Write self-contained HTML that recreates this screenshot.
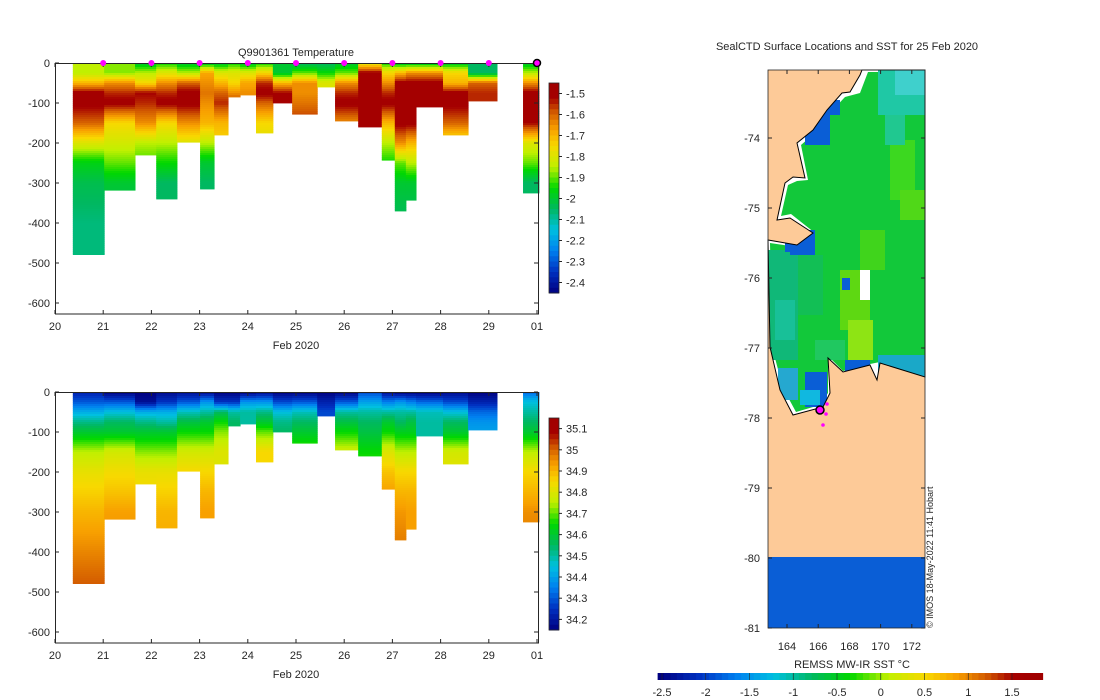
<!DOCTYPE html>
<html><head><meta charset="utf-8"><style>
body{margin:0;background:#fff}
svg{display:block;font-family:"Liberation Sans","DejaVu Sans",sans-serif}
text{font-size:11px;fill:#262626}
</style></head><body>
<svg id="s" width="1100" height="700" xmlns="http://www.w3.org/2000/svg">
<defs><clipPath id="oc"><polygon points="862,70 925,70 925,377 880,363 877,380 870,365 843,372 828,358 830,393 823,407 793,415 780,390 770,347 768,240 797,245 813,233 790,218 777,220 785,183 793,177 805,178 797,143 813,130 827,110 842,93 850,92 860,75"/></clipPath></defs>
<g id="top"></g>
<g id="bot"></g>
<g id="map"></g>
</svg>
<script>
// ---- data ----
const depthLevels=[0,25,50,75,100,150,200,250,300,400,500];
const colEdges=[20.37,21.02,21.66,22.10,22.53,23.01,23.30,23.59,23.84,24.17,24.52,24.92,25.44,25.81,26.29,26.78,27.05,27.28,27.49,28.05,28.57,29.17];
const lastCol=[29.71,30.04];
const maxDepth=[479,318,230,340,198,315,180,85,80,175,100,128,60,145,160,243,370,343,110,180,95,325];
const tempProfiles=[
[-1.85,-1.85,-1.7,-1.5,-1.5,-1.6,-1.8,-1.97,-2.03,-2.07,-2.07],
[-1.88,-1.88,-1.65,-1.55,-1.5,-1.75,-1.82,-1.9,-2.0,-2.05,-2.05],
[-2.0,-1.85,-1.75,-1.52,-1.55,-1.65,-1.85,-1.92,-1.95,-2,-2],
[-1.95,-1.8,-1.65,-1.55,-1.5,-1.75,-1.85,-1.95,-2.05,-2.05,-2.05],
[-2.0,-1.85,-1.6,-1.5,-1.5,-1.65,-1.8,-1.85,-1.9,-1.9,-1.9],
[-2.0,-1.68,-1.65,-1.62,-1.65,-1.7,-1.85,-2.0,-2.05,-2.05,-2.05],
[-2.0,-1.8,-1.7,-1.6,-1.55,-1.7,-1.75,-1.75,-1.75,-1.75,-1.75],
[-1.95,-1.8,-1.75,-1.65,-1.55,-1.55,-1.55,-1.55,-1.55,-1.55,-1.55],
[-2.0,-1.8,-1.68,-1.65,-1.65,-1.65,-1.65,-1.65,-1.65,-1.65,-1.65],
[-1.95,-1.75,-1.55,-1.5,-1.6,-1.75,-1.8,-1.8,-1.8,-1.8,-1.8],
[-2.0,-2.0,-1.7,-1.52,-1.52,-1.52,-1.52,-1.52,-1.52,-1.52,-1.52],
[-2.05,-1.9,-1.65,-1.65,-1.62,-1.55,-1.55,-1.55,-1.55,-1.55,-1.55],
[-2.05,-1.95,-1.8,-1.8,-1.8,-1.8,-1.8,-1.8,-1.8,-1.8,-1.8],
[-2.0,-1.9,-1.65,-1.55,-1.5,-1.65,-1.72,-1.72,-1.72,-1.72,-1.72],
[-1.8,-1.5,-1.5,-1.5,-1.5,-1.5,-1.5,-1.5,-1.5,-1.5,-1.5],
[-1.95,-1.75,-1.65,-1.55,-1.5,-1.7,-1.85,-1.95,-1.95,-1.95,-1.95],
[-2.0,-1.7,-1.5,-1.5,-1.5,-1.5,-1.65,-1.9,-2.0,-2.05,-2.05],
[-2.0,-1.65,-1.5,-1.5,-1.5,-1.5,-1.7,-1.85,-2.0,-2.05,-2.05],
[-2.0,-1.65,-1.5,-1.5,-1.5,-1.5,-1.5,-1.5,-1.5,-1.5,-1.5],
[-2.0,-1.75,-1.7,-1.5,-1.5,-1.6,-1.8,-1.8,-1.8,-1.8,-1.8],
[-2.05,-2.05,-1.6,-1.55,-1.55,-1.55,-1.55,-1.55,-1.55,-1.55,-1.55]];
const lastTemp=[-2.0,-1.85,-1.65,-1.5,-1.5,-1.52,-1.8,-1.9,-2.05,-2.05,-2.05];
const salProfiles=[
[34.22,34.3,34.42,34.52,34.6,34.75,34.82,34.86,34.9,34.96,35.02],
[34.15,34.3,34.45,34.55,34.6,34.78,34.84,34.88,34.93,34.95,34.95],
[34.15,34.18,34.42,34.52,34.6,34.72,34.82,34.85,34.85,34.85,34.85],
[34.17,34.25,34.42,34.5,34.6,34.72,34.82,34.86,34.9,34.92,34.92],
[34.18,34.3,34.48,34.58,34.65,34.78,34.85,34.85,34.85,34.85,34.85],
[34.17,34.38,34.5,34.6,34.65,34.78,34.85,34.9,34.93,34.93,34.93],
[34.15,34.25,34.55,34.65,34.72,34.8,34.8,34.8,34.8,34.8,34.8],
[34.15,34.25,34.5,34.55,34.55,34.55,34.55,34.55,34.55,34.55,34.55],
[34.15,34.38,34.5,34.5,34.5,34.5,34.5,34.5,34.5,34.5,34.5],
[34.17,34.38,34.52,34.6,34.7,34.85,34.85,34.85,34.85,34.85,34.85],
[34.15,34.28,34.45,34.52,34.55,34.55,34.55,34.55,34.55,34.55,34.55],
[34.15,34.3,34.48,34.55,34.6,34.7,34.7,34.7,34.7,34.7,34.7],
[34.15,34.22,34.28,34.28,34.28,34.28,34.28,34.28,34.28,34.28,34.28],
[34.15,34.3,34.5,34.58,34.65,34.78,34.8,34.8,34.8,34.8,34.8],
[34.28,34.4,34.5,34.55,34.58,34.65,34.68,34.68,34.68,34.68,34.68],
[34.18,34.35,34.5,34.6,34.65,34.8,34.88,34.93,34.93,34.93,34.93],
[34.15,34.38,34.5,34.55,34.62,34.75,34.85,34.9,34.94,34.98,34.98],
[34.15,34.35,34.5,34.58,34.62,34.75,34.85,34.9,34.93,34.93,34.93],
[34.15,34.32,34.48,34.5,34.5,34.5,34.5,34.5,34.5,34.5,34.5],
[34.17,34.28,34.45,34.55,34.6,34.78,34.82,34.82,34.82,34.82,34.82],
[34.15,34.22,34.32,34.38,34.4,34.4,34.4,34.4,34.4,34.4,34.4]];
const lastSal=[34.32,34.45,34.5,34.55,34.6,34.75,34.85,34.9,34.95,34.98,34.98];
const stationDays=[21,22,23,24,25,26,27,28,29];
const xTicks=['20','21','22','23','24','25','26','27','28','29','01'];
const yTicks=[0,-100,-200,-300,-400,-500,-600];
const tempTicks=[-1.5,-1.6,-1.7,-1.8,-1.9,-2,-2.1,-2.2,-2.3,-2.4];
const salTicks=[35.1,35,34.9,34.8,34.7,34.6,34.5,34.4,34.3,34.2];
const latTicks=[-74,-75,-76,-77,-78,-79,-80,-81];
const lonTicks=[164,166,168,170,172];
const sstTicks=[-2.5,-2,-1.5,-1,-0.5,0,0.5,1,1.5];

const NS='http://www.w3.org/2000/svg';
function el(p,t,a){const e=document.createElementNS(NS,t);for(const k in a)e.setAttribute(k,a[k]);p.appendChild(e);return e;}
const stops=[[0,[0,0,128]],[0.1,[0,48,192]],[0.2,[0,128,240]],[0.3,[0,192,224]],[0.4,[0,184,96]],[0.5,[0,216,0]],[0.6,[192,240,0]],[0.7,[248,216,0]],[0.78,[248,160,0]],[0.86,[210,90,0]],[0.93,[165,0,0]],[1,[160,0,0]]];
function cmap(t){t=Math.max(0,Math.min(1,t));for(let i=1;i<stops.length;i++){if(t<=stops[i][0]){const a=stops[i-1],b=stops[i],f=(t-a[0])/(b[0]-a[0]);const c=a[1].map((v,j)=>Math.round(v+(b[1][j]-v)*f));return `rgb(${c})`;}}return 'rgb(160,0,0)';}
function interp(prof,d){for(let i=1;i<depthLevels.length;i++){if(d<=depthLevels[i]){const f=(d-depthLevels[i-1])/(depthLevels[i]-depthLevels[i-1]);return prof[i-1]+(prof[i]-prof[i-1])*f;}}return prof[prof.length-1];}

function section(g,y0,profiles,last,vmin,vmax,ticks,cbTop,cbBot,title){
  const xs=d=>55+(d-20)*48.2, ys=z=>y0+z*0.4;
  const tn=v=>(v-vmin)/(vmax-vmin);
  function col(x0d,x1d,prof,md){
    for(let d=0;d<md;d+=5){
      const r=el(g,'rect',{x:xs(x0d),y:ys(d),width:xs(x1d)-xs(x0d)+0.5,height:Math.min(5,md-d)*0.4+0.4,fill:cmap(tn(interp(prof,d+2.5)))});
      
      
    }
  }
  for(let i=0;i<profiles.length;i++)col(colEdges[i],colEdges[i+1],profiles[i],maxDepth[i]);
  col(lastCol[0],lastCol[1],last,maxDepth[maxDepth.length-1]);
  const ax=el(g,'g',{stroke:'#262626','stroke-width':1,fill:'none'});
  
  
  el(ax,'path',{d:`M55.5 ${y0}V${y0+251}H538.5V${y0}M55 ${y0}.5H538`});
  xTicks.forEach((t,i)=>{const x=xs(20+i);el(ax,'path',{d:`M${x} ${y0+251}v-4M${x} ${y0}v4`});
    const tx=el(g,'text',{x:x,y:y0+267,'text-anchor':'middle'});tx.textContent=t;
    
    });
  yTicks.forEach(v=>{const y=ys(-v);el(ax,'path',{d:`M55 ${y}h4M538 ${y}h-4`});
    const tx=el(g,'text',{x:50,y:y+4,'text-anchor':'end'});tx.textContent=v;
    
    });
  const xl=el(g,'text',{x:296,y:y0+286,'text-anchor':'middle'});xl.textContent='Feb 2020';
  
  
  if(title){const tt=el(g,'text',{x:296,y:y0-7,'text-anchor':'middle'});tt.textContent=title;
    
    }
  const cb=el(g,'g',{});
  
  
  const n=40,h=(cbBot-cbTop)/n;
  for(let i=0;i<n;i++)el(cb,'rect',{x:549,y:cbTop+i*h,width:10,height:h+0.5,fill:cmap(1-(i+0.5)/n)});
  el(cb,'rect',{x:549,y:cbTop,width:10,height:cbBot-cbTop,fill:'none',stroke:'#262626','stroke-width':0.8});
  ticks.forEach(v=>{const y=cbBot-tn(v)*(cbBot-cbTop);el(cb,'path',{d:`M559 ${y}h3`,stroke:'#262626'});
    const tx=el(cb,'text',{x:566,y:y+4});tx.textContent=v;
    
    });
  return xs;
}
const T=document.getElementById('top'),B=document.getElementById('bot');
const xs=section(T,63,tempProfiles,lastTemp,-2.45,-1.45,tempTicks,83,293,'Q9901361  Temperature');
section(B,392,salProfiles,lastSal,34.15,35.15,salTicks,418,630,null);
stationDays.forEach(d=>{const c=el(T,'circle',{cx:xs(d),cy:63,r:3,fill:'#ff00ff'});
  
  });
const lc=el(T,'circle',{cx:537,cy:63,r:3.5,fill:'#ff00ff',stroke:'#000','stroke-width':1.5});



// ---- map ----
const M=document.getElementById('map');
const latY=l=>138+(-74-l)*70, lonX=l=>787+(l-164)*15.6;
el(M,'rect',{x:768,y:70,width:157,height:558,fill:'#fdca98'});
el(M,'rect',{x:768,y:557,width:157,height:71,fill:'#0a5ed6'});
const ocean='862,70 925,70 925,377 880,363 877,380 870,365 843,372 828,358 830,393 823,407 793,415 780,390 770,347 768,240 797,245 813,233 790,218 777,220 785,183 793,177 805,178 797,143 813,130 827,110 842,93 850,92 860,75';
el(M,'polygon',{points:ocean,fill:'#fff'});
const sg=el(M,'g',{'clip-path':'url(#oc)'});
const sea=el(sg,'polygon',{points:'868,72 925,72 925,376 880,362 870,364 843,371 828,356 828,393 820,405 796,412 783,388 772,347 770,243 797,247 815,233 791,214 781,216 788,185 797,181 808,180 801,145 816,132 830,113 845,97 860,93',fill:'#12c83a'});


[[768,250,30,110,'#10b878'],[798,255,25,60,'#12bf55'],[840,270,30,60,'#5ed812'],[848,320,25,40,'#8ee414'],[860,230,25,40,'#40d41c'],[890,140,25,60,'#3cd820'],[900,190,25,30,'#50d818'],[878,70,47,45,'#1fc8a5'],[895,70,30,25,'#3fd0cc'],[885,115,20,30,'#20c890'],[878,355,47,22,'#1aa8c8'],[845,360,25,12,'#0a5ed6'],[805,105,25,40,'#0a5ed6'],[820,100,20,15,'#0a5ed6'],[785,230,30,22,'#0a5ed6'],[790,240,25,15,'#0a5ed6'],[805,372,22,35,'#0a5ed6'],[778,368,20,32,'#25a8d0'],[800,390,20,15,'#10b8e0'],[842,278,8,12,'#0a5ed6'],[860,270,10,30,'#fff'],[775,300,20,40,'#18c098'],[815,340,30,20,'#20c860']].forEach(r=>el(sg,'rect',{x:r[0],y:r[1],width:r[2],height:r[3],fill:r[4]}));
el(M,'polygon',{points:ocean,fill:'none',stroke:'#000','stroke-width':1});
el(M,'rect',{x:768,y:70,width:157,height:558,fill:'none',stroke:'#262626','stroke-width':0.8});
latTicks.forEach(l=>{const y=latY(l);el(M,'path',{d:`M768 ${y}h4M925 ${y}h-4`,stroke:'#262626'});
  const t=el(M,'text',{x:760,y:y+4,'text-anchor':'end'});t.textContent=l;
  
  });
lonTicks.forEach(l=>{const x=lonX(l);el(M,'path',{d:`M${x} 628v-4M${x} 70v4`,stroke:'#262626'});
  const t=el(M,'text',{x:x,y:650,'text-anchor':'middle'});t.textContent=l;
  
  });
[[827,404],[826,414],[823,425]].forEach(p=>el(M,'circle',{cx:p[0],cy:p[1],r:1.8,fill:'#ff00ff'}));
const loc=el(M,'circle',{cx:820,cy:410,r:4,fill:'#ff00ff',stroke:'#000','stroke-width':1.5});


const mt=el(M,'text',{x:847,y:50,'text-anchor':'middle'});mt.textContent='SealCTD Surface Locations and SST for 25 Feb 2020';


const cr=el(M,'text',{x:0,y:0,transform:'translate(933,628) rotate(-90)',style:'font-size:9px'});cr.textContent='© IMOS 18-May-2022 11:41 Hobart';


const sx=v=>662+(v+2.5)*87.5;
const n=60;for(let i=0;i<n;i++){const v=-2.55+4.4*i/n;el(M,'rect',{x:sx(v),y:673,width:4.4*87.5/n+0.5,height:7,fill:cmap(i/(n-1))});}
sstTicks.forEach(v=>{el(M,'path',{d:`M${sx(v)} 673v7`,stroke:'#262626','stroke-width':0.6});
  const t=el(M,'text',{x:sx(v),y:696,'text-anchor':'middle'});t.textContent=v;
  
  });
const ct=el(M,'text',{x:852,y:668,'text-anchor':'middle'});ct.textContent='REMSS MW-IR SST °C';


</script>
</body></html>
